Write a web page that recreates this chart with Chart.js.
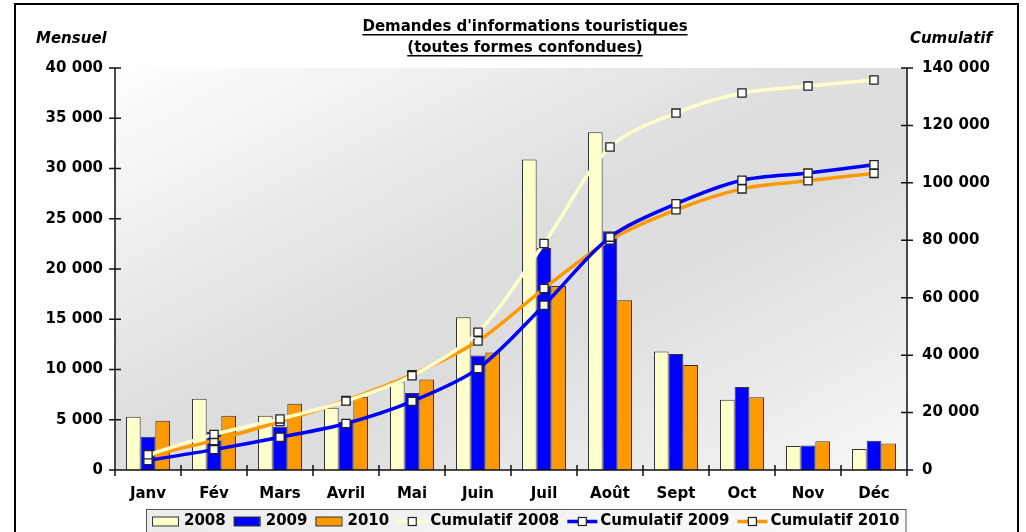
<!DOCTYPE html>
<html>
<head>
<meta charset="utf-8">
<script src="https://cdn.jsdelivr.net/npm/chart.js@4"></script>
<style>
  html, body { margin: 0; padding: 0; background: #fff; }
  canvas { display: block; }
</style>
</head>
<body>
<canvas id="chart" width="1026" height="532"></canvas>
<script>
// months on the x axis
const months = ['Janv', 'Fév', 'Mars', 'Avril', 'Mai', 'Juin', 'Juil', 'Août', 'Sept', 'Oct', 'Nov', 'Déc'];

// monthly requests (left axis)
const monthly2008 = [5300, 7100, 5400, 6200, 8800, 15200, 30900, 33600, 11800, 7000, 2400, 2100];
const monthly2009 = [3300, 3800, 4300, 4800, 7650, 11400, 22100, 23750, 11550, 8250, 2450, 2900];
const monthly2010 = [4900, 5400, 6600, 7300, 9000, 11700, 18300, 16900, 10450, 7250, 2850, 2630];

// cumulative requests (right axis)
const cumul2008 = [5300, 12400, 17800, 24000, 32800, 48000, 78900, 112500, 124300, 131300, 133700, 135800];
const cumul2009 = [3300, 7100, 11400, 16200, 23900, 35300, 57400, 81100, 92700, 100900, 103400, 106300];
const cumul2010 = [4900, 10300, 16900, 24200, 33200, 44900, 63200, 80100, 90600, 97900, 100700, 103300];

// axis ranges
const leftMax = 40000, leftStep = 5000;
const rightMax = 140000, rightStep = 20000;

const FONT = '"DejaVu Sans", Verdana, sans-serif';

function fmt(v) {
  return String(v).replace(/\B(?=(\d{3})+(?!\d))/g, ' ');
}

function underlined(ctx, text, cx, y) {
  const w = ctx.measureText(text).width;
  ctx.fillText(text, cx, y);
  ctx.fillRect(cx - w / 2, y + 3, w, 1.5);
}

const decor = {
  id: 'decor',
  beforeDraw(chart) {
    const { ctx, chartArea: a } = chart;
    ctx.save();
    ctx.fillStyle = '#fff';
    ctx.fillRect(0, 0, chart.width, chart.height);
    // diagonal gradient of the plot area
    ctx.translate(a.left, a.top);
    ctx.scale(a.right - a.left, a.bottom - a.top);
    const g = ctx.createLinearGradient(0, 0, 1, 1);
    g.addColorStop(0, '#ffffff');
    g.addColorStop(0.45, '#dedede');
    g.addColorStop(0.6, '#dddddd');
    g.addColorStop(1, '#f7f7f7');
    ctx.fillStyle = g;
    ctx.fillRect(0, 0, 1, 1);
    ctx.restore();
  },
  afterDraw(chart) {
    const { ctx, chartArea: a } = chart;
    const x = chart.scales.x, y = chart.scales.y, y1 = chart.scales.y1;
    ctx.save();

    // axes
    ctx.strokeStyle = '#111';
    ctx.lineWidth = 1.5;
    ctx.beginPath();
    ctx.moveTo(a.left, a.top); ctx.lineTo(a.left, a.bottom);
    ctx.moveTo(a.right, a.top); ctx.lineTo(a.right, a.bottom);
    ctx.moveTo(a.left, a.bottom); ctx.lineTo(a.right, a.bottom);
    y.ticks.forEach(t => {
      const py = y.getPixelForValue(t.value);
      ctx.moveTo(a.left - 6, py); ctx.lineTo(a.left + 6, py);
    });
    y1.ticks.forEach(t => {
      const py = y1.getPixelForValue(t.value);
      ctx.moveTo(a.right - 6, py); ctx.lineTo(a.right + 6, py);
    });
    for (let i = 0; i <= months.length; i++) {
      let px;
      if (i === 0) px = a.left;
      else if (i === months.length) px = a.right;
      else px = (x.getPixelForValue(i - 1) + x.getPixelForValue(i)) / 2;
      ctx.moveTo(px, a.bottom - 5); ctx.lineTo(px, a.bottom + 6);
    }
    ctx.stroke();

    // title
    ctx.fillStyle = '#000';
    ctx.font = 'bold 15px ' + FONT;
    ctx.textAlign = 'center';
    ctx.textBaseline = 'alphabetic';
    underlined(ctx, "Demandes d'informations touristiques", 525, 31);
    underlined(ctx, '(toutes formes confondues)', 525, 52);

    ctx.font = 'italic bold 15px ' + FONT;
    ctx.textAlign = 'left';
    ctx.fillText('Mensuel', 36, 43);
    ctx.textAlign = 'right';
    ctx.fillText('Cumulatif', 992, 43);

    // legend
    ctx.font = 'bold 15px ' + FONT;
    ctx.textAlign = 'left';
    ctx.textBaseline = 'middle';
    const items = chart.data.datasets.map(d => {
      const isLine = d.type === 'line';
      const tw = ctx.measureText(d.label).width;
      return { d, isLine, w: (isLine ? 33 : 32) + tw };
    });
    const gap = 8;
    const total = items.reduce((s, it) => s + it.w, 0) + gap * (items.length - 1);
    const boxW = total + 12;
    const boxL = Math.round(525.5 - boxW / 2);
    const boxT = 509;
    const lg = ctx.createLinearGradient(boxL, 0, boxL + boxW, 0);
    lg.addColorStop(0, '#ececec');
    lg.addColorStop(1, '#fbfbfb');
    ctx.fillStyle = lg;
    ctx.fillRect(boxL, boxT, boxW, 40);
    ctx.strokeStyle = '#555';
    ctx.lineWidth = 1;
    ctx.strokeRect(boxL + 0.5, boxT + 0.5, boxW, 40);
    let cx = boxL + 6;
    const cy = 521.5;
    items.forEach(it => {
      const d = it.d;
      if (it.isLine) {
        ctx.strokeStyle = d.borderColor;
        ctx.lineWidth = 3.5;
        ctx.beginPath();
        ctx.moveTo(cx, cy); ctx.lineTo(cx + 30, cy);
        ctx.stroke();
        ctx.fillStyle = '#fff';
        ctx.fillRect(cx + 11, cy - 4, 8, 8);
        ctx.strokeStyle = '#222';
        ctx.lineWidth = 1.2;
        ctx.strokeRect(cx + 11, cy - 4, 8, 8);
        ctx.fillStyle = '#000';
        ctx.fillText(d.label, cx + 33, cy);
      } else {
        ctx.fillStyle = d.backgroundColor;
        ctx.fillRect(cx, cy - 4.5, 26, 9);
        ctx.strokeStyle = '#333';
        ctx.lineWidth = 1;
        ctx.strokeRect(cx + 0.5, cy - 4.5, 26, 9);
        ctx.fillStyle = '#000';
        ctx.fillText(d.label, cx + 32, cy);
      }
      cx += it.w + gap;
    });

    // outer frame
    ctx.strokeStyle = '#000';
    ctx.lineWidth = 2;
    ctx.strokeRect(15, 4, 1003, 600);
    ctx.restore();
  }
};

function barSet(label, data, color) {
  return {
    type: 'bar', label, data, yAxisID: 'y', order: 2,
    backgroundColor: color, borderColor: '#333', borderWidth: 1,
    categoryPercentage: 0.667, barPercentage: 1.0
  };
}

function lineSet(label, data, color) {
  return {
    type: 'line', label, data, yAxisID: 'y1', order: 1,
    borderColor: color, borderWidth: 3.5, tension: 0.3, fill: false,
    pointStyle: 'rect', pointRadius: 5.8, pointBackgroundColor: '#fff',
    pointBorderColor: '#222', pointBorderWidth: 1.3
  };
}

const tickFont = { family: FONT, size: 15, weight: 'bold' };

new Chart(document.getElementById('chart').getContext('2d'), {
  data: {
    labels: months,
    datasets: [
      barSet('2008', monthly2008, '#FFFFCC'),
      barSet('2009', monthly2009, '#0000FF'),
      barSet('2010', monthly2010, '#FF9900'),
      lineSet('Cumulatif 2008', cumul2008, '#FFFFCC'),
      lineSet('Cumulatif 2009', cumul2009, '#0000FF'),
      lineSet('Cumulatif 2010', cumul2010, '#FF9900')
    ]
  },
  options: {
    responsive: false,
    animation: false,
    layout: { padding: { top: 68, left: 0, right: 0, bottom: 0 } },
    plugins: {
      legend: { display: false },
      tooltip: { enabled: false },
      title: { display: false }
    },
    scales: {
      x: {
        grid: { display: false, drawTicks: false },
        border: { display: false },
        ticks: { font: tickFont, color: '#000', padding: 15, maxRotation: 0 },
        afterFit(s) { s.height = 62; }
      },
      y: {
        position: 'left', min: 0, max: leftMax,
        grid: { display: false, drawTicks: false },
        border: { display: false },
        ticks: { stepSize: leftStep, callback: fmt, font: tickFont, color: '#000', padding: 12 },
        afterFit(s) { s.width = 115; }
      },
      y1: {
        position: 'right', min: 0, max: rightMax,
        grid: { display: false, drawTicks: false },
        border: { display: false },
        ticks: { stepSize: rightStep, callback: fmt, font: tickFont, color: '#000', padding: 15 },
        afterFit(s) { s.width = 119; }
      }
    }
  },
  plugins: [decor]
});
</script>
</body>
</html>
